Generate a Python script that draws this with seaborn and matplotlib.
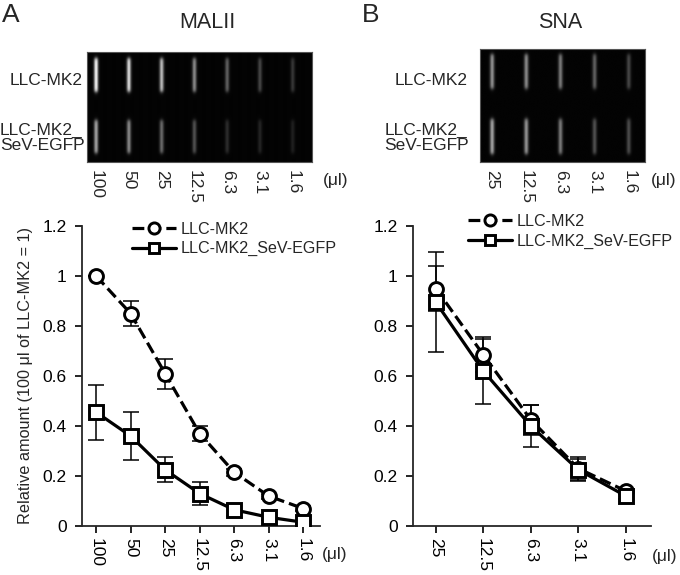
import numpy as np
import pandas as pd
import matplotlib
matplotlib.use("Agg")
import matplotlib.pyplot as plt
import seaborn as sns

# ---------------- data ----------------
lanes_A = ["100", "50", "25", "12.5", "6.3", "3.1", "1.6"]
mk2_A = [1.0, 0.85, 0.61, 0.37, 0.215, 0.12, 0.07]
mk2_A_err = [0.0, 0.05, 0.06, 0.03, 0.015, 0.01, 0.01]
sev_A = [0.455, 0.36, 0.225, 0.13, 0.065, 0.035, 0.015]
sev_A_err = [0.11, 0.095, 0.05, 0.045, 0.025, 0.01, 0.005]

lanes_B = ["25", "12.5", "6.3", "3.1", "1.6"]
mk2_B = [0.95, 0.685, 0.425, 0.23, 0.14]
mk2_B_err = [0.09, 0.07, 0.06, 0.045, 0.01]
sev_B = [0.895, 0.62, 0.40, 0.225, 0.12]
sev_B_err = [0.2, 0.13, 0.085, 0.045, 0.01]

# blot band intensities (0..1) per lane
blotA_top = [0.95, 0.85, 0.72, 0.52, 0.36, 0.26, 0.2]
blotA_bot = [0.62, 0.52, 0.4, 0.3, 0.16, 0.13, 0.11]
blotB_top = [0.55, 0.52, 0.46, 0.36, 0.26]
blotB_bot = [0.62, 0.56, 0.46, 0.3, 0.28]

row_labels = ["LLC-MK2", "LLC-MK2_\nSeV-EGFP"]
series_names = ["LLC-MK2", "LLC-MK2_SeV-EGFP"]
ylabel = "Relative amount (100 \u03bcl of LLC-MK2 = 1)"
unit = "(\u03bcl)"

# ---------------- style ----------------
sns.set_style("ticks")
plt.rcParams["font.family"] = ["Liberation Sans", "DejaVu Sans"]
plt.rcParams["axes.linewidth"] = 1.3

W, H = 680, 575
fig = plt.figure(figsize=(W / 100, H / 100), dpi=100)
TICK_FS = 12.5


def rect(x0, y0, x1, y1):
    return [x0 / W, 1 - y1 / H, (x1 - x0) / W, (y1 - y0) / H]


def ftext(x, y, s, **kw):
    fig.text(x / W, 1 - y / H, s, **kw)


def blot(ax, top, bot, xlim, bands):
    n = len(top)
    cols, rows = 400, 220
    xs = np.linspace(xlim[0], xlim[1], cols)
    ys = np.linspace(0, 1, rows)
    img = np.zeros((rows, cols))
    for i in range(n):
        hprof = np.exp(-0.5 * ((xs - i) / 0.045) ** 2)
        for (y0, y1), val in zip(bands, (top[i], bot[i])):
            vprof = 1 / (1 + np.exp(-(ys - y0) / 0.01)) * 1 / (1 + np.exp((ys - y1) / 0.01))
            img += val * np.outer(vprof, hprof)
    img += 0.015
    ax.imshow(np.clip(img, 0, 1), cmap="gray", vmin=0, vmax=1, aspect="auto",
              extent=[xlim[0], xlim[1], 1, 0], interpolation="bilinear")
    ax.set_xlim(*xlim)
    ax.set_ylim(1, 0)
    ax.set_yticks([])
    for s in ax.spines.values():
        s.set_color("#555555")
        s.set_linewidth(0.8)


def panel(ax, labels, mk2, mk2e, sev, sev_e, xlim):
    pos = np.arange(len(labels))
    ax.errorbar(pos, mk2, yerr=mk2e, fmt="none", ecolor="black", elinewidth=1.1,
                capsize=6, capthick=1.1, zorder=1)
    ax.errorbar(pos, sev, yerr=sev_e, fmt="none", ecolor="black", elinewidth=1.1,
                capsize=6, capthick=1.1, zorder=1)
    df1 = pd.DataFrame({"x": pos, "y": mk2})
    df2 = pd.DataFrame({"x": pos, "y": sev})
    sns.lineplot(data=df1, x="x", y="y", ax=ax, color="black", lw=2.3,
                 linestyle="--", dashes=(3.0, 2.0), marker="o", markersize=10,
                 markerfacecolor="white", markeredgecolor="black",
                 markeredgewidth=2.1, label=series_names[0], sort=False, zorder=3)
    sns.lineplot(data=df2, x="x", y="y", ax=ax, color="black", lw=2.3,
                 marker="s", markersize=9.5, markerfacecolor="white",
                 markeredgecolor="black", markeredgewidth=2.1,
                 label=series_names[1], sort=False, zorder=4)
    ax.set_xlim(*xlim)
    ax.set_ylim(0, 1.2)
    ax.set_yticks([0, 0.2, 0.4, 0.6, 0.8, 1.0, 1.2])
    ax.set_yticklabels(["0", "0.2", "0.4", "0.6", "0.8", "1", "1.2"])
    ax.set_xticks(pos)
    ax.set_xticklabels(labels, rotation=270)
    ax.tick_params(axis="both", labelsize=TICK_FS, length=5, width=1.2,
                   direction="out", colors="black")
    ax.tick_params(axis="y", pad=6)
    ax.tick_params(axis="x", pad=4)
    ax.set_xlabel("")
    ax.set_ylabel("")
    sns.despine(ax=ax)


# ---------------- blots ----------------
axbA = fig.add_axes(rect(87, 52, 312, 162))
blot(axbA, blotA_top, blotA_bot, (-0.27, 6.58), [(0.055, 0.36), (0.62, 0.92)])
axbA.set_xticks(np.arange(len(lanes_A)))
axbA.set_xticklabels(lanes_A, rotation=270, va="top")
axbA.tick_params(axis="x", length=0, pad=6, labelsize=TICK_FS)

axbB = fig.add_axes(rect(480, 49, 645, 162))
blot(axbB, blotB_top, blotB_bot, (-0.35, 4.47), [(0.045, 0.35), (0.62, 0.93)])
axbB.set_xticks(np.arange(len(lanes_B)))
axbB.set_xticklabels(lanes_B, rotation=270, va="top")
axbB.tick_params(axis="x", length=0, pad=6, labelsize=TICK_FS)

# ---------------- plots ----------------
axA = fig.add_axes(rect(82, 226, 320, 526))
panel(axA, lanes_A, mk2_A, mk2_A_err, sev_A, sev_A_err, (-0.41, 6.49))
axA.set_ylabel(ylabel, fontsize=11.7, labelpad=7)

axB = fig.add_axes(rect(413, 226, 651, 526))
panel(axB, lanes_B, mk2_B, mk2_B_err, sev_B, sev_B_err, (-0.48, 4.53))

for ax, anchor in ((axA, (0.21, 1.015)), (axB, (0.231, 1.04))):
    ax.legend(loc="upper left", bbox_to_anchor=anchor, frameon=False,
              fontsize=11.6, handlelength=2.75, handletextpad=0.3,
              labelspacing=0.3, borderaxespad=0, borderpad=0, markerscale=0.8)

# ---------------- texts ----------------
ftext(2, 3, "A", fontsize=19, ha="left", va="top")
ftext(362, 3, "B", fontsize=19, ha="left", va="top")
ftext(207, 22, "MALII", fontsize=15.5, ha="center", va="center")
ftext(560, 22, "SNA", fontsize=15.5, ha="center", va="center")

ftext(83, 81, row_labels[0], fontsize=12.5, ha="right", va="center")
ftext(0, 138, row_labels[1], fontsize=12.5, ha="left", va="center", linespacing=1.05)
ftext(468, 81, row_labels[0], fontsize=12.5, ha="right", va="center")
ftext(469, 138, row_labels[1], fontsize=12.5, ha="right", va="center",
      multialignment="left", linespacing=1.05)

ftext(323, 180, unit, fontsize=TICK_FS, ha="left", va="center")
ftext(651, 181, unit, fontsize=TICK_FS, ha="left", va="center")
ftext(322, 555, unit, fontsize=TICK_FS, ha="left", va="center")
ftext(652, 556, unit, fontsize=TICK_FS, ha="left", va="center")

fig.savefig("out.png", dpi=100, facecolor="white")
